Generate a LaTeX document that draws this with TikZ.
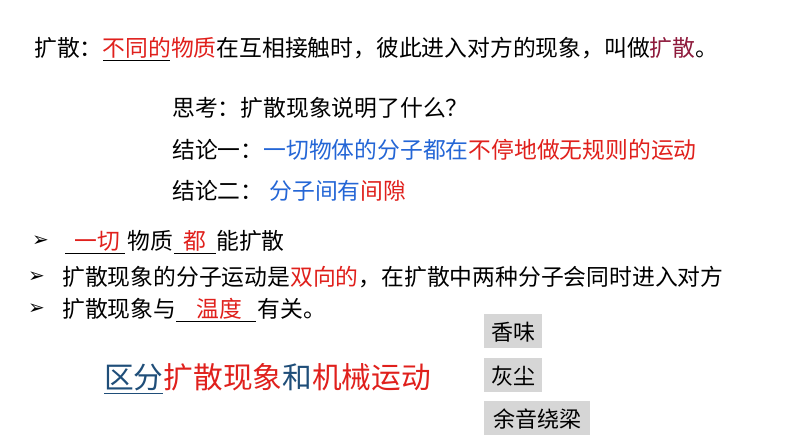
\documentclass[tikz,border=0pt]{standalone}
\usepackage{fontspec}
\newfontfamily\cjk{Noto Sans CJK SC}
\newfontfamily\djv{DejaVu Sans}
\definecolor{rd}{HTML}{E0201C}
\definecolor{bl}{HTML}{2466D6}
\definecolor{dbl}{HTML}{1F4E79}
\definecolor{mr}{HTML}{8E1A3C}
\definecolor{gbox}{HTML}{D6D6D6}
\begin{document}
\begin{tikzpicture}[x=1pt,y=-1pt,
  txt/.style={anchor=west,inner sep=0pt,font=\cjk\fontsize{22.8}{26}\selectfont},
  big/.style={anchor=west,inner sep=0pt,font=\cjk\fontsize{29.7}{34}\selectfont},
  gray/.style={anchor=north west,fill=gbox,inner sep=0pt,minimum height=34pt,font=\cjk\fontsize{22}{26}\selectfont,text depth=0pt},
  bul/.style={anchor=west,inner sep=0pt,font=\djv\fontsize{20}{22}\selectfont},
  ul/.style={line width=1pt}]
\useasboundingbox (0,0) rectangle (794,446);
\fill[white] (0,0) rectangle (794,446);
\node[txt] (l1) at (34,48) {扩散：\textcolor{rd}{不同的}\textcolor{rd}{物质}在互相接触时，彼此进入对方的现象，叫做\textcolor{mr}{扩散}。};
\coordinate (u1a) at (103,61); \coordinate (u1b) at (170,61);
\draw[ul] (u1a) -- (u1b);
\node[txt] (q) at (172,108) {思考：扩散现象说明了什么？};
\node[txt] (c1) at (172,150) {结论一：\textcolor{bl}{一切物体的分子都在}\textcolor{rd}{不停地做无规则的运动}};
\node[txt] (c2) at (172,191) {结论二：\hspace{6pt}\textcolor{bl}{分子间有}\textcolor{rd}{间隙}};
\node[bul] (b1) at (32,241) {➢};
\node[bul] (b2) at (28,277) {➢};
\node[bul] (b3) at (28,309) {➢};
\node[txt] (t1) at (74,241) {\textcolor{rd}{一切}\hspace{8pt}物质\hspace{10pt}\textcolor{rd}{都}\hspace{10pt}能扩散};
\draw[ul] (65,253) -- (125,253);
\draw[ul] (174,253) -- (216,253);
\node[txt] (t2) at (62,277) {扩散现象的分子运动是\textcolor{rd}{双向的}，在扩散中两种分子会同时进入对方};
\node[txt] (t3) at (62,309) {扩散现象与\hspace{20pt}\textcolor{rd}{温度}\hspace{16pt}有关。};
\draw[ul] (176,321) -- (256,321);
\node[big] (d) at (104,377) {\textcolor{dbl}{区分}\textcolor{rd}{扩散现象}\textcolor{dbl}{和}\textcolor{rd}{机械运动}};
\draw[dbl,line width=1pt] (104,393) -- (163,393);
\node[gray,minimum width=58pt] (g1) at (484,314) {香味};
\node[gray,minimum width=58pt] (g2) at (484,358) {灰尘};
\node[gray,minimum width=106pt] (g3) at (484,401) {余音绕梁};
\end{tikzpicture}
\end{document}
